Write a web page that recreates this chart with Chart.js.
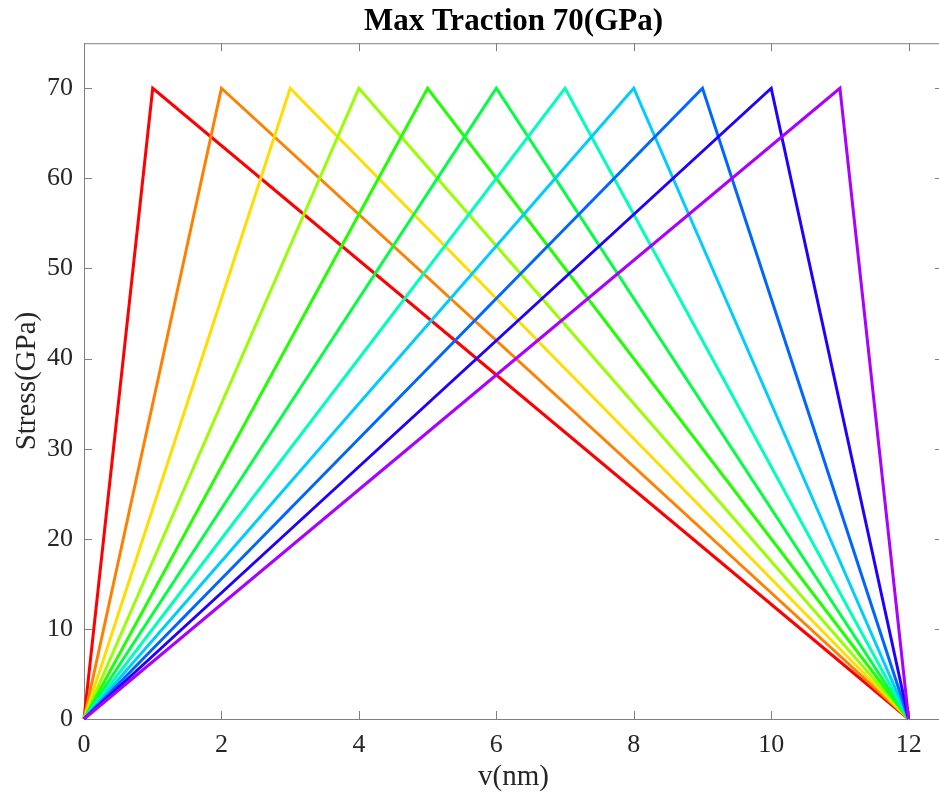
<!DOCTYPE html>
<html>
<head>
<meta charset="utf-8">
<script src="https://cdn.jsdelivr.net/npm/chart.js@4/dist/chart.umd.min.js"></script>
<style>
  body { margin: 0; overflow: hidden; background: #fff; }
  #wrap { width: 939px; height: 803px; overflow: hidden; }
</style>
</head>
<body>
<div id="wrap"><canvas id="myChart" width="945" height="803"></canvas></div>
<script>
// each curve: (0,0) -> (peak, 70) -> (12,0)
var peakX = [1, 2, 3, 4, 5, 6, 7, 8, 9, 10, 11];
var peakStress = 70;
var endX = 12;
var colors = ["#ff0000", "#ff8000", "#ffdd00", "#99ff00", "#22ff00", "#00ff44",
              "#00ffbb", "#00ccff", "#0066ff", "#2200ff", "#aa00ff"];
var xTicks = [0, 2, 4, 6, 8, 10, 12];
var yTicks = [0, 10, 20, 30, 40, 50, 60, 70];

var datasets = peakX.map(function(p, i) {
  return {
    label: "peak " + p,
    data: [{x: 0, y: 0}, {x: p, y: peakStress}, {x: endX, y: 0}],
    borderColor: colors[i],
    backgroundColor: colors[i],
    borderWidth: 3,
    pointRadius: 0,
    fill: false,
    tension: 0,
    clip: false,
    order: peakX.length - i
  };
});

// box round the plot + inward ticks on all four sides
var boxPlugin = {
  id: "box",
  beforeDatasetsDraw: function(chart) {
    var ctx = chart.ctx, a = chart.chartArea;
    var sx = chart.scales.x, sy = chart.scales.y;
    ctx.save();
    ctx.strokeStyle = "#808080";
    ctx.lineWidth = 1;
    ctx.strokeRect(a.left + 0.5, a.top + 0.5, a.right - a.left, a.bottom - a.top);
    ctx.beginPath();
    xTicks.forEach(function(v) {
      var px = Math.round(sx.getPixelForValue(v)) + 0.5;
      ctx.moveTo(px, a.bottom); ctx.lineTo(px, a.bottom - 8);
      ctx.moveTo(px, a.top); ctx.lineTo(px, a.top + 8);
    });
    yTicks.forEach(function(v) {
      var py = Math.round(sy.getPixelForValue(v)) + 0.5;
      ctx.moveTo(a.left, py); ctx.lineTo(a.left + 8, py);
      ctx.moveTo(a.right, py); ctx.lineTo(a.right - 8, py);
    });
    ctx.stroke();
    ctx.restore();
  }
};

Chart.defaults.font.family = "'Liberation Serif', 'Times New Roman', serif";

const myChart = new Chart("myChart", {
  type: "line",
  data: { datasets: datasets },
  plugins: [boxPlugin],
  options: {
    animation: false,
    responsive: false,
    layout: { padding: { left: 0, right: 2, top: 0, bottom: 0 } },
    plugins: {
      legend: { display: false },
      tooltip: { enabled: false },
      title: {
        display: true,
        fullSize: false,
        text: "Max Traction 70(GPa)",
        color: "#000",
        font: { size: 31, weight: "bold" },
        padding: { top: 3, bottom: 3 }
      }
    },
    scales: {
      x: {
        type: "linear",
        min: 0,
        max: 12.5,
        afterBuildTicks: function(s) { s.ticks = xTicks.map(function(v) { return {value: v}; }); },
        afterFit: function(s) { s.height = 84; },
        grid: { display: false, drawTicks: false },
        border: { display: false },
        ticks: { color: "#262626", font: { size: 26 }, padding: 11, maxRotation: 0 },
        title: { display: true, text: "v(nm)", color: "#262626", font: { size: 29 }, padding: { top: 0, bottom: 8 } }
      },
      y: {
        type: "linear",
        min: 0,
        max: 75,
        afterBuildTicks: function(s) { s.ticks = yTicks.map(function(v) { return {value: v}; }); },
        afterFit: function(s) { s.width = 84; },
        grid: { display: false, drawTicks: false },
        border: { display: false },
        ticks: { color: "#262626", font: { size: 26 }, padding: 11 },
        title: { display: true, text: "Stress(GPa)", color: "#262626", font: { size: 29 }, padding: { top: 10, bottom: 0 } }
      }
    }
  }
});
</script>
</body>
</html>
